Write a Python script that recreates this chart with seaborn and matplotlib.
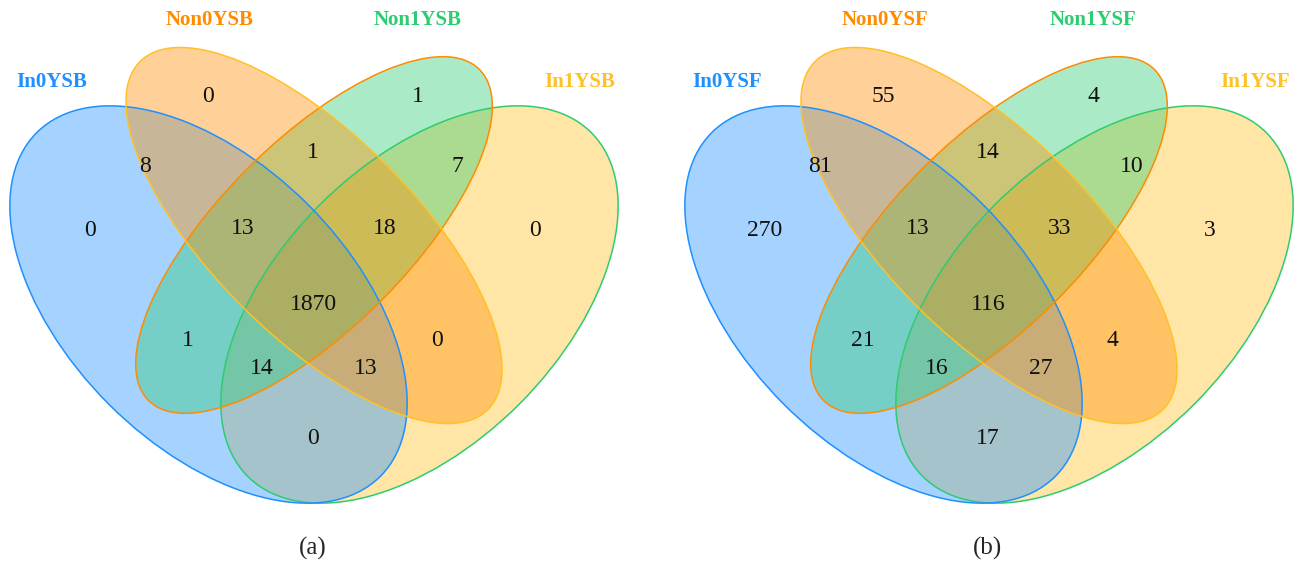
import matplotlib
matplotlib.use('Agg')
import matplotlib.pyplot as plt
from matplotlib.patches import Ellipse
import seaborn as sns

sns.set_theme(style='white')
plt.rcParams['font.family'] = ['Liberation Serif', 'DejaVu Serif']

# set names per panel
sets_a = ['In0YSB', 'Non0YSB', 'Non1YSB', 'In1YSB']
sets_b = ['In0YSF', 'Non0YSF', 'Non1YSF', 'In1YSF']

# region order: In0, Non0, Non1, In1 only; In0&Non0, Non0&Non1, Non1&In1;
# In0&Non0&Non1, Non0&Non1&In1, all; In0&Non1, In0&Non1&In1,
# In0&Non0&In1, Non0&In1, In0&In1
regions = ['1000', '0100', '0010', '0001', '1100', '0110', '0011',
           '1110', '0111', '1111', '1010', '1011', '1101', '0101', '1001']
counts_a = [0, 0, 1, 0, 8, 1, 7, 13, 18, 1870, 1, 14, 13, 0, 0]
counts_b = [270, 55, 4, 3, 81, 14, 10, 13, 33, 116, 21, 16, 27, 4, 17]
panel_tags = ['(a)', '(b)']

# layout (pixel space, relative to panel a)
fill_cols = ['#1E90FF', '#FF8C00', '#2ECC71', '#FFC125']
edge_cols = ['#1E90FF', '#FFC125', '#FF8C00', '#2ECC71']
label_cols = ['#1E90FF', '#FF8C00', '#2ECC71', '#FFC125']
ellipses = [((208.5, 304.5), 486, 282, 45),
            ((314, 235.5), 492, 202, 45),
            ((314, 235), 468, 188, -45),
            ((419.5, 304.5), 486, 282, -45)]
draw_order = [3, 0, 2, 1]
set_label_pos = [(52, 82), (210, 20), (418, 20), (580, 82)]
region_pos = {'1000': (90, 230), '0100': (208, 97), '0010': (418, 97),
              '0001': (535, 230), '1100': (145, 167), '0110': (313, 153),
              '1011': (262, 368), '1110': (243, 228), '0111': (385, 228),
              '1111': (313, 305), '1010': (188, 340), '0011': (457, 167),
              '1101': (366, 368), '0101': (437, 340), '1001': (313, 438)}
offsets = [0, 675]

fig = plt.figure(figsize=(12.95, 5.78), dpi=100)
ax = fig.add_axes([0, 0, 1, 1])
ax.set_xlim(0, 1295)
ax.set_ylim(578, 0)
ax.axis('off')

for dx, names, counts, tag in zip(offsets, [sets_a, sets_b],
                                  [counts_a, counts_b], panel_tags):
    for i in draw_order:
        c, w, h, ang = ellipses[i]
        ax.add_patch(Ellipse((c[0] + dx, c[1]), w, h, angle=ang,
                             facecolor=fill_cols[i], alpha=0.4,
                             edgecolor='none'))
    for i in draw_order:
        c, w, h, ang = ellipses[i]
        ax.add_patch(Ellipse((c[0] + dx, c[1]), w, h, angle=ang,
                             facecolor='none', edgecolor=edge_cols[i],
                             lw=1.1))
    for name, (x, y), col in zip(names, set_label_pos, label_cols):
        ax.text(x + dx, y, name, color=col, fontsize=15, fontweight='bold',
                ha='center', va='center')
    for key, n in zip(regions, counts):
        x, y = region_pos[key]
        ax.text(x + dx, y, str(n), fontsize=17, ha='center', va='center',
                color='#111111')
    ax.text(313 + dx, 548, tag, fontsize=18, ha='center', va='center')

fig.savefig('out.png', dpi=100)
